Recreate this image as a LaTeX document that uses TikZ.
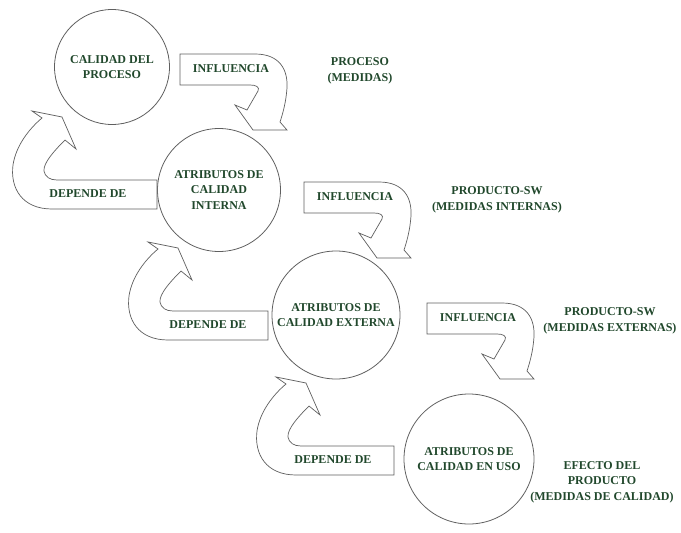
\documentclass[tikz,border=0pt]{standalone}
\usepackage{fontspec}
\setmainfont{Liberation Serif}
\begin{document}
\begin{tikzpicture}[x=1pt,y=-1pt,
  txt/.style={text=labelgreen,font=\bfseries\fontsize{12}{15.5}\selectfont,align=center,inner sep=0pt},
  ring/.style={circle,draw=linegray,line width=0.8pt,txt},
  blockarrow/.style={draw=linegray,line width=0.7pt,fill=white,line join=miter}]
\definecolor{labelgreen}{RGB}{33,72,44}
\definecolor{linegray}{RGB}{95,95,95}
\useasboundingbox (0,0) rectangle (681,533);

% block arrow bending clockwise, tail box at the origin
\tikzset{pics/influencia/.style={code={
  \draw[blockarrow] (0,0) -- (75,0)
    .. controls (100,0) and (108,16) .. (107,34)
    .. controls (106,48) and (103,59) .. (100,68)
    -- (107,76) -- (73,76) -- (55,51) -- (67,56) -- (78,37)
    .. controls (80,33) and (76,31) .. (70,31) -- (0,31) -- cycle;}}}
% U-turn block arrow pointing up-right; #1 = right end of the tail box
\tikzset{pics/depende/.style={code={
  \draw[blockarrow] (#1,209) -- (52,209)
    .. controls (22,209) and (10,188) .. (13,165)
    .. controls (16,145) and (30,128) .. (42,118)
    -- (32,111) -- (62,117) -- (76,149) -- (65,140)
    .. controls (55,150) and (43,163) .. (44,171)
    .. controls (45,177) and (50,180) .. (57,180) -- (#1,180) -- cycle;}}}

% quality levels
\node[ring,minimum size=115pt] (proceso) at (112,67) {CALIDAD DEL\\PROCESO};
\node[ring,minimum size=123pt] (interna) at (219,190) {ATRIBUTOS DE\\CALIDAD\\INTERNA};
\node[ring,minimum size=128pt] (externa) at (336,315) {ATRIBUTOS DE\\CALIDAD EXTERNA};
\node[ring,minimum size=130pt] (enuso) at (469,459) {ATRIBUTOS DE\\CALIDAD EN USO};

% "influencia" arrows
\pic at (180,54) {influencia};
\pic at (304,182) {influencia};
\pic at (427,303) {influencia};
\node[txt] (inf1) at (231,69) {INFLUENCIA};
\node[txt] (inf2) at (355,197) {INFLUENCIA};
\node[txt] (inf3) at (478,318) {INFLUENCIA};

% "depende de" arrows
\pic at (0,0) {depende=157};
\pic at (116,131) {depende=152};
\pic at (244,266) {depende=150};
\node[txt] (dep1) at (88,194) {DEPENDE DE};
\node[txt] (dep2) at (208,325) {DEPENDE DE};
\node[txt] (dep3) at (333,460) {DEPENDE DE};

% measures
\node[txt] (mproc) at (360,71) {PROCESO\\(MEDIDAS)};
\node[txt] (mint) at (497,200) {PRODUCTO-SW\\(MEDIDAS INTERNAS)};
\node[txt] (mext) at (610,321) {PRODUCTO-SW\\(MEDIDAS EXTERNAS)};
\node[txt] (muso) at (602,482) {EFECTO DEL\\PRODUCTO\\(MEDIDAS DE CALIDAD)};
\end{tikzpicture}
\end{document}
